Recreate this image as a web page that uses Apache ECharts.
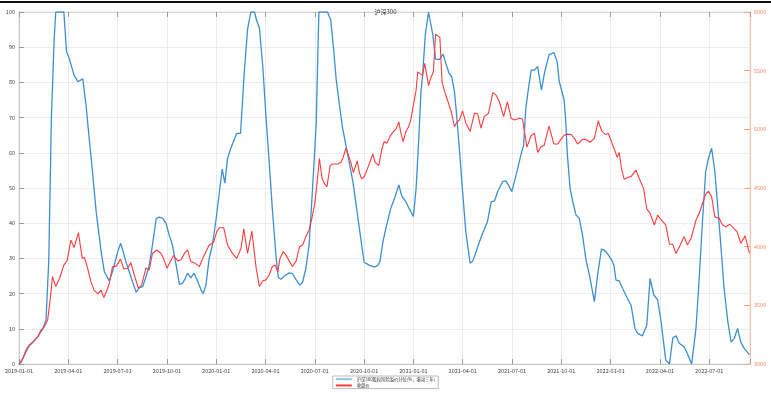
<!DOCTYPE html>
<html>
<head>
<meta charset="utf-8">
<script src="https://cdn.jsdelivr.net/npm/echarts@6/dist/echarts.min.js"></script>
<style>
html,body{margin:0;padding:0;background:#fff;}
#chart{width:771px;height:393px;}
</style>
</head>
<body>
<div id="chart"></div>
<script>
// x values: days since 2019-01-01
const tickLabels = ['2019-01-01','2019-04-01','2019-07-01','2019-10-01','2020-01-01','2020-04-01','2020-07-01','2020-10-01','2021-01-01','2021-04-01','2021-07-01','2021-10-01','2022-01-01','2022-04-01','2022-07-01'];
const seriesNames = ['沪深300股权风险溢价分位(%，滚动三年)', '收盘价'];

const blueDays = [0,4,13,19,25,35,44,50,55,60,65,68,83,88,93,102,109,118,124,130,136,143,152,158,167,173,183,188,192,198,204,210,217,223,229,235,241,247,254,260,266,272,278,284,291,297,303,307,312,318,324,331,337,341,346,352,358,365,371,376,381,386,392,399,403,410,417,423,429,436,439,445,451,457,463,469,476,480,485,491,500,506,513,520,525,531,537,543,550,555,571,577,582,587,593,599,605,611,618,624,630,635,639,648,658,664,668,673,679,688,695,703,707,710,716,722,730,735,740,744,747,752,758,762,766,771,778,785,790,796,801,806,810,815,821,827,835,840,846,852,858,867,874,880,886,895,901,906,912,917,923,929,934,938,943,948,954,960,967,973,981,990,996,1000,1009,1012,1015,1020,1025,1031,1037,1043,1049,1057,1065,1071,1078,1083,1089,1097,1101,1105,1111,1117,1123,1133,1140,1145,1154,1162,1168,1175,1182,1188,1197,1204,1210,1216,1222,1231,1237,1245,1253,1259,1265,1271,1276,1282,1288,1293,1299,1305,1312,1318,1324,1330,1336,1342,1352];
const blueVals = [0,0.5,3.5,5.2,6,7.8,10,12.5,29,70,92,100,100,88.7,86.8,82,80.2,81,73.6,64,54.6,43,32,26.2,23.6,26.2,32,34.3,32.4,29,26.2,23.4,20.4,21.7,22,24.8,28,33.8,41.4,41.7,41.4,40,36.6,33.8,28,22.6,23,24.1,25.8,24.5,25.8,23.4,21,20,22.4,30,33.8,41.4,49,55.4,51.4,58.4,61.3,64,65.5,65.5,83,95,100,100,98,95.4,85,70.7,57.5,43.9,30,24.5,24.1,25,25.9,25.7,23.9,22.4,23.3,27.2,33.8,49,67.9,100,100,97.7,90,81,73.6,67,62.2,57.5,51.8,45.2,38.5,32.9,28.9,28.1,27.5,28,29,34.3,38.5,44.2,47,50.9,48.5,47.3,46.1,44.2,41.9,49.9,64.1,77.3,82,93.5,100,96.7,93.5,86.6,86.5,88,85.4,82.6,81.6,77.4,70.7,61.3,49,37.6,28.6,29.3,31.9,34.6,37.1,40.4,46.1,46.3,49,51.8,52,50.8,49,51.8,55.6,59.4,62.2,72.6,78.3,83.5,83.5,84.5,77.8,83,87.8,88.5,85.9,80.2,75,68.9,59.4,49.9,46.1,42.3,41.4,36.6,30,24.3,17.7,25.3,32.6,32.4,31.4,29.5,28.1,23.8,23.6,21.5,19.6,16.6,10.1,8.7,8,11.1,24.3,19.6,18.2,12.5,1.1,0,7.3,8,5.9,4.9,3,0,10.1,24.3,40.4,54.6,58.4,61.3,54.6,45.2,33.8,21.5,12,6.2,7.3,10.1,6.2,4.5,2.6];

const redDays = [0,7,13,19,25,35,41,47,53,58,62,68,75,83,89,96,102,110,117,121,127,133,139,146,152,157,163,167,173,180,188,194,201,207,213,221,227,235,241,247,255,263,268,274,280,286,294,300,306,312,318,326,334,340,346,352,360,366,371,379,386,395,403,411,416,423,431,439,445,451,457,463,469,474,479,483,489,494,500,506,513,519,525,531,537,542,547,551,556,561,565,570,576,581,590,596,600,605,610,614,619,626,630,634,639,645,650,655,659,666,672,676,681,687,693,698,703,707,711,716,721,725,730,735,738,742,747,751,758,762,767,771,779,783,787,793,800,806,810,815,821,827,835,843,849,855,861,869,877,883,889,897,904,911,917,926,932,940,948,954,960,966,972,981,990,997,1003,1009,1015,1022,1028,1034,1043,1049,1057,1065,1072,1078,1085,1091,1097,1103,1107,1111,1115,1120,1126,1133,1142,1148,1156,1162,1168,1176,1182,1189,1197,1204,1210,1216,1224,1231,1237,1244,1253,1259,1265,1271,1276,1282,1288,1296,1302,1308,1316,1323,1329,1336,1344,1352];
const redVals = [3000,3048,3120,3162,3186,3234,3291,3318,3375,3561,3744,3660,3729,3843,3879,4056,3993,4119,3900,3909,3816,3702,3630,3597,3630,3567,3630,3684,3828,3834,3894,3810,3816,3864,3765,3645,3672,3819,3801,3942,3972,3942,3894,3816,3873,3924,3879,3888,3942,3972,3873,3858,3831,3900,3957,4014,4035,4128,4161,4161,4014,3942,3900,3987,4152,3942,4134,3816,3660,3708,3717,3759,3831,3843,3786,3900,3957,3930,3879,3831,3879,3999,4014,4086,4143,4242,4356,4512,4752,4581,4539,4512,4692,4704,4704,4719,4761,4839,4776,4719,4632,4731,4632,4578,4596,4665,4728,4791,4719,4692,4839,4896,4881,4944,4980,5004,5064,4965,4896,4980,5022,5079,5208,5334,5490,5475,5460,5562,5373,5436,5490,5811,5784,5406,5334,5250,5151,5022,5058,5079,5157,5055,4983,5139,5130,5010,5109,5136,5313,5292,5235,5109,5235,5094,5079,5094,5088,4848,4947,4968,4803,4851,4863,5028,4875,4875,4914,4950,4959,4956,4923,4875,4914,4914,4890,4923,5073,4992,4956,4965,4890,4818,4761,4803,4668,4575,4587,4599,4653,4581,4497,4320,4284,4185,4269,4227,4185,4020,4020,3942,4014,4086,4014,4071,4227,4284,4368,4446,4473,4425,4254,4242,4185,4170,4191,4155,4128,4029,4092,3942];

const xInterval = 91.25;
const xMax = 1353;

const zip = (a, b) => a.map((d, i) => [d, b[i]]);
const fontFam = '"Noto Sans CJK SC", "Noto Sans", sans-serif';

const chart = echarts.init(document.getElementById('chart'), null, {renderer: 'canvas'});
chart.setOption({
  animation: false,
  backgroundColor: '#fff',
  textStyle: {fontFamily: fontFam},
  title: {
    text: '沪深300', left: 'center', top: 4,
    textStyle: {fontSize: 6, fontWeight: 'normal', color: '#333', fontFamily: fontFam}
  },
  graphic: [{
    type: 'rect', left: 0, top: 1, shape: {width: 771, height: 2},
    style: {fill: '#111'}, silent: true
  }],
  legend: {
    orient: 'vertical', left: 'center', top: 376, height: 60,
    itemWidth: 16, itemHeight: 2, itemGap: 2,
    padding: [1, 3, 1, 3],
    borderColor: '#bbb', borderWidth: 1,
    textStyle: {fontSize: 4.3, color: '#333', fontFamily: fontFam},
    icon: 'rect',
    data: seriesNames
  },
  grid: {left: 19, right: 21, top: 12, bottom: 29, show: true, borderColor: '#e0e0e0', borderWidth: 1},
  xAxis: [{
    type: 'value', min: 0, max: xMax, interval: xInterval,
    axisLine: {show: true, onZero: false, lineStyle: {color: '#c8c8c8'}},
    axisTick: {show: true, inside: true, length: 5, lineStyle: {color: '#999'}},
    axisLabel: {
      fontSize: 5.5, color: '#444', margin: 4, fontFamily: fontFam,
      formatter: function (v) {
        const i = Math.round(v / xInterval);
        return (Math.abs(v - i * xInterval) < 0.5 && i < tickLabels.length) ? tickLabels[i] : '';
      }
    },
    splitLine: {show: true, lineStyle: {color: '#ececec'}}
  }, {
    type: 'value', position: 'top', min: 0, max: xMax, interval: xInterval,
    axisLine: {show: true, onZero: false, lineStyle: {color: '#d8d8d8'}},
    axisTick: {show: true, inside: true, length: 5, lineStyle: {color: '#999'}},
    axisLabel: {show: false}, splitLine: {show: false}
  }],
  yAxis: [{
    type: 'value', min: 0, max: 100, interval: 10, position: 'left',
    axisLine: {show: true, onZero: false, lineStyle: {color: '#c8c8c8'}},
    axisTick: {show: true, inside: true, length: 5, lineStyle: {color: '#999'}},
    axisLabel: {fontSize: 5.5, color: '#444', margin: 4, fontFamily: fontFam},
    splitLine: {show: true, lineStyle: {color: '#ececec'}}
  }, {
    type: 'value', min: 3000, max: 6000, interval: 500, position: 'right',
    axisLine: {show: true, onZero: false, lineStyle: {color: '#f6c3a5'}},
    axisTick: {show: true, inside: true, length: 6, lineStyle: {color: '#f3a57e'}},
    axisLabel: {fontSize: 5.5, color: '#f08a5d', margin: 4, fontFamily: fontFam,
      formatter: function (v) { return String(v); }},
    splitLine: {show: false}
  }],
  series: [{
    name: seriesNames[0], type: 'line', xAxisIndex: 0, yAxisIndex: 0,
    data: zip(blueDays, blueVals),
    showSymbol: false, symbol: 'none',
    lineStyle: {color: '#3d8fd1', width: 1.3},
    itemStyle: {color: '#8ec3ea'}, z: 2
  }, {
    name: seriesNames[1], type: 'line', xAxisIndex: 0, yAxisIndex: 1,
    data: zip(redDays, redVals),
    showSymbol: false, symbol: 'none',
    lineStyle: {color: '#ff3b3b', width: 1.1},
    itemStyle: {color: '#ff3b3b'}, z: 3
  }]
});
</script>
</body>
</html>
